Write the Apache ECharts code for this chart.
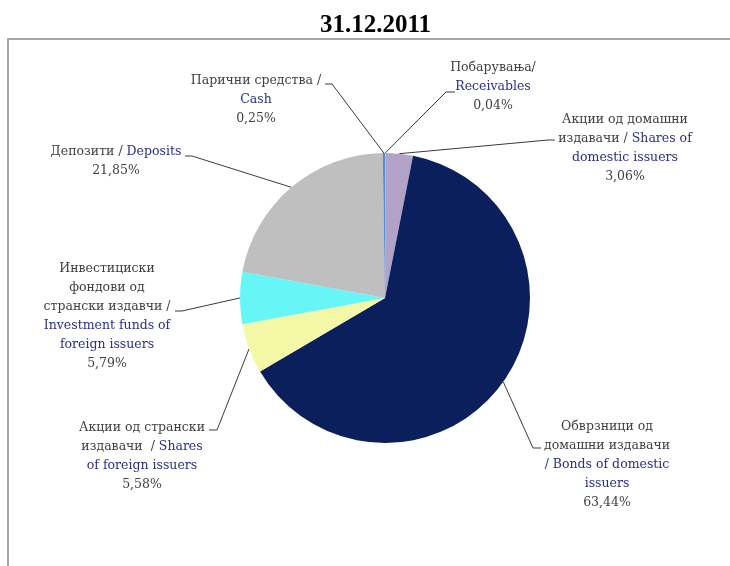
<!DOCTYPE html>
<html><head><meta charset="utf-8">
<script src="https://cdn.jsdelivr.net/npm/echarts@6/dist/echarts.min.js"></script>
<style>html,body{margin:0;padding:0;background:#fff}#c{width:730px;height:566px}</style>
</head><body><div id="c"></div>
<script>
// Data (clockwise from 12 o'clock)
const categories = [
  'Побарувања/\n[Receivables]',
  'Акции од домашни\nиздавачи / [Shares of]\n[domestic issuers]',
  'Обврзници од\nдомашни издавачи\n[/ Bonds of domestic]\n[issuers]',
  'Акции од странски\nиздавачи  / [Shares]\n[of foreign issuers]',
  'Инвестициски\nфондови од\nстрански издавчи /\n[Investment funds of]\n[foreign issuers]',
  'Депозити / [Deposits]',
  'Парични средства /\n[Cash]'
];
const values = [0.04, 3.06, 63.44, 5.58, 5.79, 21.85, 0.25];
const title = '31.12.2011';

// Style
const colors = ['#8eb4e3', '#b3a2c7', '#0b1f5d', '#f3f7a6', '#66f6f8', '#bfbfbf', '#4f8fd0'];
const labelPlace = [
  {x: 493, y: 87, ex: 446, ey: 92, hx: 455},
  {x: 625, y: 148, ex: 548, ey: 140, hx: 555},
  {x: 607, y: 465, ex: 533, ey: 448, hx: 541},
  {x: 142, y: 456, ex: 217, ey: 430, hx: 209},
  {x: 107, y: 316, ex: 182, ey: 311, hx: 175},
  {x: 116, y: 161, ex: 192, ey: 156, hx: 185},
  {x: 256, y: 100, ex: 332, ey: 84, hx: 325}
];

function richText(str, v) {
  const lines = str.split('\n').map(function (line) {
    let out = '';
    const re = /\[([^\]]*)\]|([^\[]+)/g;
    let m;
    while ((m = re.exec(line)) !== null) {
      if (m[1] !== undefined) out += '{e|' + m[1] + '}';
      else out += '{k|' + m[2] + '}';
    }
    return out;
  });
  lines.push('{k|' + v.toFixed(2).replace('.', ',') + '%}');
  return lines.join('\n');
}

const chart = echarts.init(document.getElementById('c'));
chart.setOption({
  animation: false,
  title: {
    text: title, left: 315, top: 8,
    textStyle: {fontFamily: 'Liberation Serif', fontWeight: 'bold', fontSize: 25, color: '#000'}
  },
  graphic: [{
    type: 'rect', shape: {x: 8, y: 39, width: 740, height: 540},
    style: {fill: 'none', stroke: '#a6a6a6', lineWidth: 2}, silent: true
  }],
  series: [{
    type: 'pie',
    center: [385, 298],
    radius: 145,
    startAngle: 90,
    clockwise: true,
    minAngle: 0,
    avoidLabelOverlap: false,
    data: categories.map(function (c, i) {
      return {name: c, value: values[i], itemStyle: {color: colors[i]}};
    }),
    itemStyle: {borderWidth: 0},
    label: {
      show: true,
      position: 'outside',
      formatter: function (p) { return richText(p.name, p.value); },
      align: 'center',
      lineHeight: 19,
      rich: {
        k: {fontFamily: 'DejaVu Serif', fontSize: 12.5, color: '#404040', lineHeight: 19},
        e: {fontFamily: 'DejaVu Serif', fontSize: 12.5, color: '#2b2f86', lineHeight: 19}
      }
    },
    labelLine: {show: true, length: 10, length2: 10, lineStyle: {color: '#3a3a3a', width: 1}},
    labelLayout: function (params) {
      const lp = labelPlace[params.dataIndex];
      const pts = params.labelLinePoints;
      const p0 = pts ? pts[0] : [lp.ex, lp.ey];
      return {
        x: lp.x, y: lp.y, align: 'center', verticalAlign: 'middle',
        labelLinePoints: [p0, [lp.ex, lp.ey], [lp.hx, lp.ey]]
      };
    },
    emphasis: {disabled: true}
  }]
});
</script></body></html>
